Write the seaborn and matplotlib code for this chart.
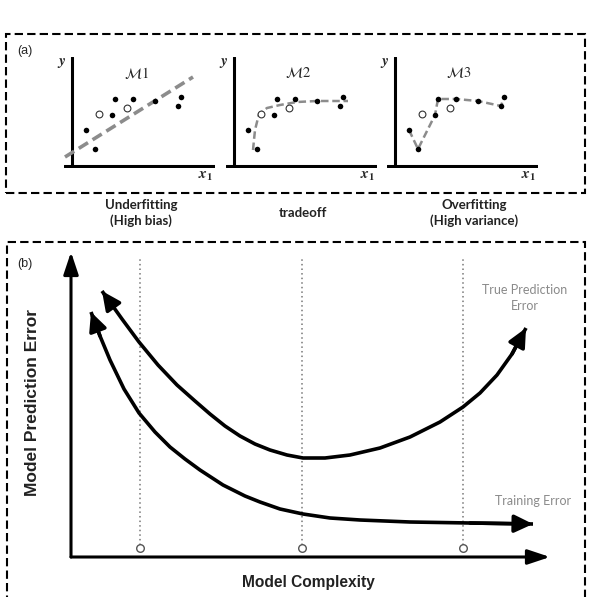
import pandas as pd
import seaborn as sns
import matplotlib.pyplot as plt
from matplotlib.patches import Rectangle

sns.set_theme(style='white')
plt.rcParams['font.family'] = ['DejaVu Sans']
plt.rcParams['mathtext.fontset'] = 'stix'

W, H = 594, 597

# (a) sample points, the same in all three small panels
train_x = [14, 23, 40, 43, 61, 83, 106, 109]
train_y = [36, 17, 51, 67, 67, 65, 60, 69]
test_x = [27, 55]
test_y = [52, 58]

# fitted models
m1_x = [-7, 121]
m1_y = [9, 89]
m2_x = [19, 21, 25, 33, 46, 63, 83, 114]
m2_y = [16, 36, 52, 58, 61, 64, 65, 65]
# M3 passes through every training point

model_names = [r'$\mathcal{M}\mathit{1}$', r'$\mathcal{M}\mathit{2}$', r'$\mathcal{M}\mathit{3}$']
fit_labels = ['Underfitting\n(High bias)', 'tradeoff', 'Overfitting\n(High variance)']

# (b) error vs complexity
true_cx = [31, 41, 51, 68, 87, 106, 124, 139, 154, 169, 184, 199, 216, 232,
           254, 279, 309, 339, 369, 392, 409, 426, 441, 455]
true_err = [266, 252, 238, 215, 192, 172, 156, 143, 131, 121, 113, 107, 102, 99,
            99, 102, 109, 120, 135, 150, 164, 182, 203, 229]
train_cx = [20, 29, 39, 53, 68, 84, 99, 114, 129, 152, 174, 189, 209, 232,
            259, 289, 339, 399, 462]
train_err = [245, 221, 197, 168, 144, 125, 110, 98, 87, 72, 61, 55, 48, 43,
             39, 37, 35, 34, 33]
marks = [69, 231, 392]


def box(x0, y0, x1, y1):
    # pixel box (top-left origin) -> figure fraction rect
    return [x0 / W, 1 - y1 / H, (x1 - x0) / W, (y1 - y0) / H]


def fx(px):
    return px / W


def fy(py):
    return 1 - py / H


def end_arrow(ax, x, y, tip, back, lw=2.6, ms=14):
    ax.annotate('', xy=(x[tip], y[tip]), xytext=(x[back], y[back]),
                arrowprops=dict(arrowstyle='-|>,head_length=0.8,head_width=0.38',
                                color='black', lw=lw, mutation_scale=ms,
                                shrinkA=0, shrinkB=0))


fig = plt.figure(figsize=(W / 100, H / 100), dpi=100)

# ---- (a) three small model panels
origins = [72, 234, 395]
label_x = [141, 303, 474]
df_train = pd.DataFrame({'x': train_x, 'y': train_y})
df_test = pd.DataFrame({'x': test_x, 'y': test_y})

for i, ox in enumerate(origins):
    ax = fig.add_axes(box(ox - 8, 57, ox + 143, 168))
    ax.set_xlim(-8, 143)
    ax.set_ylim(-2, 109)
    ax.axis('off')
    ax.axhline(0, color='black', lw=2.2)
    ax.axvline(0, color='black', lw=2.2)

    if i == 0:
        sns.lineplot(x=m1_x, y=m1_y, ax=ax, color='#8c8c8c', lw=2.6, estimator=None)
    elif i == 1:
        sns.lineplot(x=m2_x, y=m2_y, ax=ax, color='#8c8c8c', lw=1.8, estimator=None)
    else:
        sns.lineplot(data=df_train, x='x', y='y', ax=ax, color='#8c8c8c', lw=1.8, estimator=None)
    ax.lines[-1].set_dashes([3, 1.5])

    sns.scatterplot(data=df_train, x='x', y='y', ax=ax, color='black', s=16,
                    edgecolor='black', linewidth=0, zorder=3)
    sns.scatterplot(data=df_test, x='x', y='y', ax=ax, facecolor='white', s=24,
                    edgecolor='#333333', linewidth=0.8, zorder=3)
    ax.set_xlabel('')
    ax.set_ylabel('')

    ax.text(64, 93, model_names[i], ha='center', va='center', fontsize=10.5)
    ax.text(-10, 103, r'$\mathbfit{y}$', ha='center', va='center', fontsize=11, clip_on=False)
    ax.text(134, -10, r'$\mathbfit{x}_{\mathbf{1}}$', ha='center', va='center', fontsize=11, clip_on=False)

    fig.text(fx(label_x[i]), fy(213), fit_labels[i], ha='center', va='center',
             fontsize=9.5, family='Lato', fontweight='bold', color='#222222',
             linespacing=1.3)

# ---- (b) error curves
ax = fig.add_axes(box(71, 252, 550, 557))
ax.set_xlim(0, 479)
ax.set_ylim(0, 305)
ax.axis('off')

for xy in [(1, 0), (0, 1)]:
    ax.annotate('', xy=xy, xytext=(0, 0), xycoords='axes fraction',
                arrowprops=dict(arrowstyle='-|>,head_length=0.75,head_width=0.25',
                                color='black', lw=2.2, mutation_scale=18,
                                shrinkA=0, shrinkB=0))

ax.vlines(marks, 12, 300, color='#777777', lw=1.1, linestyles=(0, (1, 2)))
sns.scatterplot(x=marks, y=[9] * len(marks), ax=ax, facecolor='white', s=30,
                edgecolor='#555555', linewidth=1.0, zorder=3, clip_on=False)

sns.lineplot(x=true_cx, y=true_err, ax=ax, color='black', lw=2.6, estimator=None,
             sort=False, solid_capstyle='butt', solid_joinstyle='round')
sns.lineplot(x=train_cx, y=train_err, ax=ax, color='black', lw=2.6, estimator=None,
             sort=False, solid_capstyle='butt', solid_joinstyle='round')
end_arrow(ax, true_cx, true_err, 0, 1)
end_arrow(ax, true_cx, true_err, -1, -2)
end_arrow(ax, train_cx, train_err, 0, 1)
end_arrow(ax, train_cx, train_err, -1, -2)
ax.set_xlabel('')
ax.set_ylabel('')

fig.text(fx(525), fy(298), 'True Prediction\nError', ha='center', va='center',
         fontsize=9, family='Lato', color='#8a8a8a', linespacing=1.4)
fig.text(fx(533), fy(501), 'Training Error', ha='center', va='center',
         fontsize=9, family='Lato', color='#8a8a8a')
fig.text(fx(33), fy(402), 'Model Prediction Error', ha='center', va='center',
         rotation=90, fontsize=12.5, family='Liberation Sans', fontweight='bold',
         color='#222222')
fig.text(fx(308), fy(582), 'Model Complexity', ha='center', va='center',
         fontsize=11.2, family='Liberation Sans', fontweight='bold', color='#222222')

# panel tags and dashed frames
fig.text(fx(25), fy(51), '(a)', ha='center', va='center', fontsize=9, family='Liberation Sans')
fig.text(fx(25), fy(264), '(b)', ha='center', va='center', fontsize=9, family='Liberation Sans')
fig.patches.append(Rectangle((fx(6), fy(193)), (585 - 6) / W, (193 - 34) / H,
                             transform=fig.transFigure, fill=False, ec='black',
                             lw=1.5, ls=(0, (4, 2))))
fig.patches.append(Rectangle((fx(7), fy(610)), (585 - 7) / W, (610 - 242) / H,
                             transform=fig.transFigure, fill=False, ec='black',
                             lw=1.5, ls=(0, (4, 2))))

fig.savefig('out.png', dpi=100)
